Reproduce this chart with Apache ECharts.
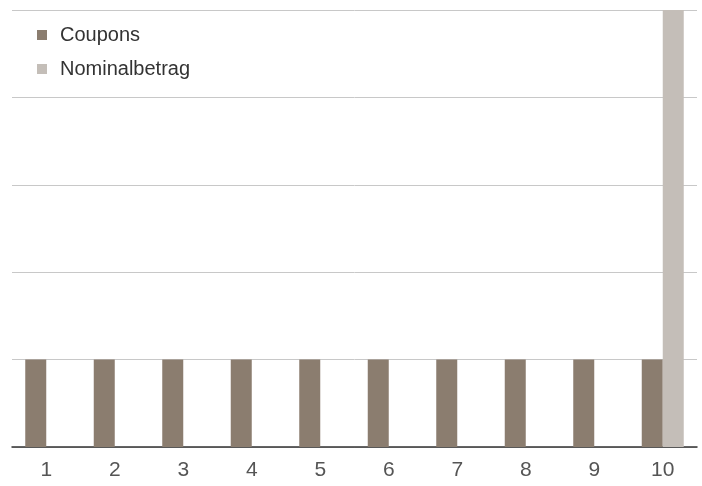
<!DOCTYPE html>
<html>
<head>
  <meta charset="utf-8">
  <title>Coupons</title>
  <script src="https://cdn.jsdelivr.net/npm/echarts@6/dist/echarts.min.js"></script>
</head>
<body style="margin:0">
  <div id="main" style="width:702px;height:486px"></div>
  <script type="text/javascript">
    var years = ['1', '2', '3', '4', '5', '6', '7', '8', '9', '10'];
    var coupons = [1, 1, 1, 1, 1, 1, 1, 1, 1, 1];
    var nominal = ['-', '-', '-', '-', '-', '-', '-', '-', '-', 5];

    var font = '"Liberation Sans Narrow", "Liberation Sans", Arial, sans-serif';
    var myChart = echarts.init(document.getElementById('main'));

    var option = {
      animation: false,
      textStyle: { fontFamily: font },
      grid: { left: 12, right: 5, top: 10, bottom: 39 },
      legend: {
        orient: 'vertical',
        left: 32,
        top: 20,
        itemWidth: 10,
        itemHeight: 10,
        itemGap: 14,
        icon: 'rect',
        textStyle: { fontSize: 20, color: '#333', fontFamily: font, padding: [0, 0, 0, 8] },
        data: ['Coupons', 'Nominalbetrag']
      },
      xAxis: {
        type: 'category',
        data: years,
        axisLine: { lineStyle: { color: '#333', width: 1.5 } },
        axisTick: { show: false },
        axisLabel: { fontSize: 21, color: '#555', margin: 13, fontFamily: font }
      },
      yAxis: {
        type: 'value',
        min: 0,
        max: 5,
        interval: 1,
        axisLabel: { show: false },
        axisLine: { show: false },
        axisTick: { show: false },
        splitLine: { lineStyle: { color: '#c8c8c8', width: 1 } }
      },
      series: [
        {
          name: 'Coupons',
          type: 'bar',
          data: coupons,
          barWidth: 21,
          barGap: '0%',
          itemStyle: { color: '#8b7d6f' }
        },
        {
          name: 'Nominalbetrag',
          type: 'bar',
          data: nominal,
          barWidth: 21,
          barGap: '0%',
          itemStyle: { color: '#c4beb8' }
        }
      ]
    };

    myChart.setOption(option);
  </script>
</body>
</html>
